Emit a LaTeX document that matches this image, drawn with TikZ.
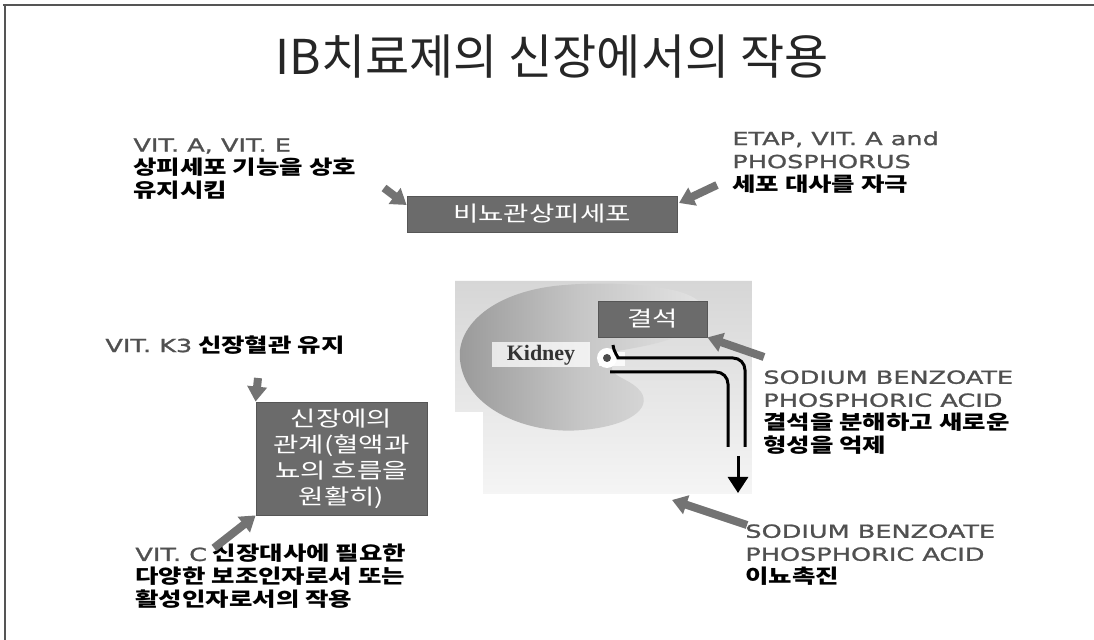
\documentclass[tikz,border=0pt]{standalone}
\usepackage{fontspec}
\usetikzlibrary{arrows.meta}
\setmainfont{Noto Sans CJK KR}
\newfontfamily\krwide[FakeStretch=1.3]{Noto Sans CJK KR}
\newfontfamily\enwide[FakeStretch=1.42,FakeBold=1.3]{DejaVu Sans}
\newfontfamily\kidfont{Liberation Serif}
\definecolor{boxgray}{HTML}{6B6B6B}
\definecolor{arrowgray}{HTML}{737373}
\definecolor{latgray}{HTML}{505050}
\definecolor{framegray}{HTML}{555555}
\tikzset{
  lbl/.style={anchor=north west, inner sep=0pt, align=left,
    font=\krwide\bfseries\fontsize{9.8}{11.5}\selectfont},
  graybox/.style={fill=boxgray, draw=boxgray!80!black, line width=0.4pt,
    text=white, align=center, inner sep=0pt,
    font=\krwide\fontsize{10.6}{13}\selectfont},
  pointer/.style={draw=arrowgray, line width=4pt,
    -{Triangle[width=9.5pt,length=7.5pt]}},
}
\newcommand{\en}[1]{{\enwide\mdseries\fontsize{9}{11.5}\selectfont\color{latgray}#1}}
\begin{document}
\begin{tikzpicture}[x=0.5pt,y=-0.5pt]
\useasboundingbox (0,0) rectangle (1094,640);
\fill[white] (0,0) rectangle (1094,640);
% frame lines
\draw[framegray, line width=1pt] (3,5) -- (1094,5);
\draw[framegray, line width=1pt] (5,5) -- (5,640);

% title
\node[font=\fontsize{24}{28}\selectfont, text=black!85] (title) at (552,57) {IB치료제의 신장에서의 작용};

% kidney picture
\path[top color=gray!32, bottom color=gray!8]
  (455,281) -- (752,281) -- (752,494) -- (483,494) -- (483,412) -- (455,412) -- cycle;
\path[left color=gray!80, right color=gray!22, middle color=gray!45]
  (612,352) .. controls (645,346) and (703,338) .. (703,310)
  .. controls (702,284) and (610,281) .. (565,285)
  .. controls (495,290) and (456,325) .. (460,360)
  .. controls (465,410) and (530,435) .. (582,430)
  .. controls (630,426) and (652,408) .. (641,392)
  .. controls (632,380) and (616,378) .. (612,370) -- cycle;
\fill[white, opacity=0.85] (599,352) rectangle (625,366);
\fill[white] (607,358) circle (10);
\node[fill=white, fill opacity=0.75, text opacity=1, minimum width=98*0.5pt,
  minimum height=25*0.5pt, inner sep=0pt, font=\kidfont\bfseries\fontsize{11}{13}\selectfont,
  text=black!80] (kid) at (541,355) {Kidney};
\fill[gray!60!black] (607,358) circle (4);
% tubes
\draw[black, line width=1.5pt, rounded corners=6pt]
  (613,345) .. controls (614,353) and (619,358) .. (630,358) -- (745,358) -- (745,447);
\draw[black, line width=1.5pt, rounded corners=6pt]
  (610,372) -- (728,372) -- (728,447);
\coordinate (flowA) at (738,456);
\coordinate (flowB) at (738,493);
\draw[black, line width=1.5pt, -{Triangle[width=10pt,length=8pt]}] (flowA) -- (flowB);

% boxes
\node[graybox, minimum width=270*0.5pt, minimum height=36*0.5pt] (epi) at (542,214) {비뇨관상피세포};
\node[graybox, minimum width=109*0.5pt, minimum height=36*0.5pt] (stone) at (652.5,319) {결석};
\node[graybox, minimum width=171*0.5pt, minimum height=113*0.5pt] (rel) at (341.5,458.5)
  {신장에의\\관계(혈액과\\뇨의 흐름을\\원활히)};

% labels
\node[lbl] (tl) at (133,138) {\en{VIT. A, VIT. E}\\상피세포 기능을 상호\\유지시킴};
\node[lbl] (tr) at (732,131) {\en{ETAP, VIT. A and}\\\en{PHOSPHORUS}\\세포 대사를 자극};
\node[lbl] (rm) at (763,370) {\en{SODIUM BENZOATE}\\\en{PHOSPHORIC ACID}\\결석을 분해하고 새로운\\형성을 억제};
\node[lbl] (rb) at (745,524) {\en{SODIUM BENZOATE}\\\en{PHOSPHORIC ACID}\\이뇨촉진};
\node[lbl] (lm) at (105,335) {\en{VIT. K3} 신장혈관 유지};
\node[lbl] (lb) at (135,544) {\en{VIT. C} 신장대사에 필요한\\다양한 보조인자로서 또는\\활성인자로서의 작용};

% gray pointers
\coordinate (p1) at (384,188);
\draw[pointer] (p1) -- (epi.west |- 0,205) ;
\coordinate (p2) at (717,185);
\draw[pointer] (p2) -- (679,203);
\coordinate (p3) at (764,357);
\draw[pointer] (p3) -- (stone.south east);
\coordinate (p4) at (747,525);
\draw[pointer] (p4) -- (672,500);
\coordinate (p5) at (258,378);
\draw[pointer] (p5) -- (rel.north west);
\coordinate (p6) at (214,548);
\draw[pointer] (p6) -- (rel.south west);
\end{tikzpicture}
\end{document}
